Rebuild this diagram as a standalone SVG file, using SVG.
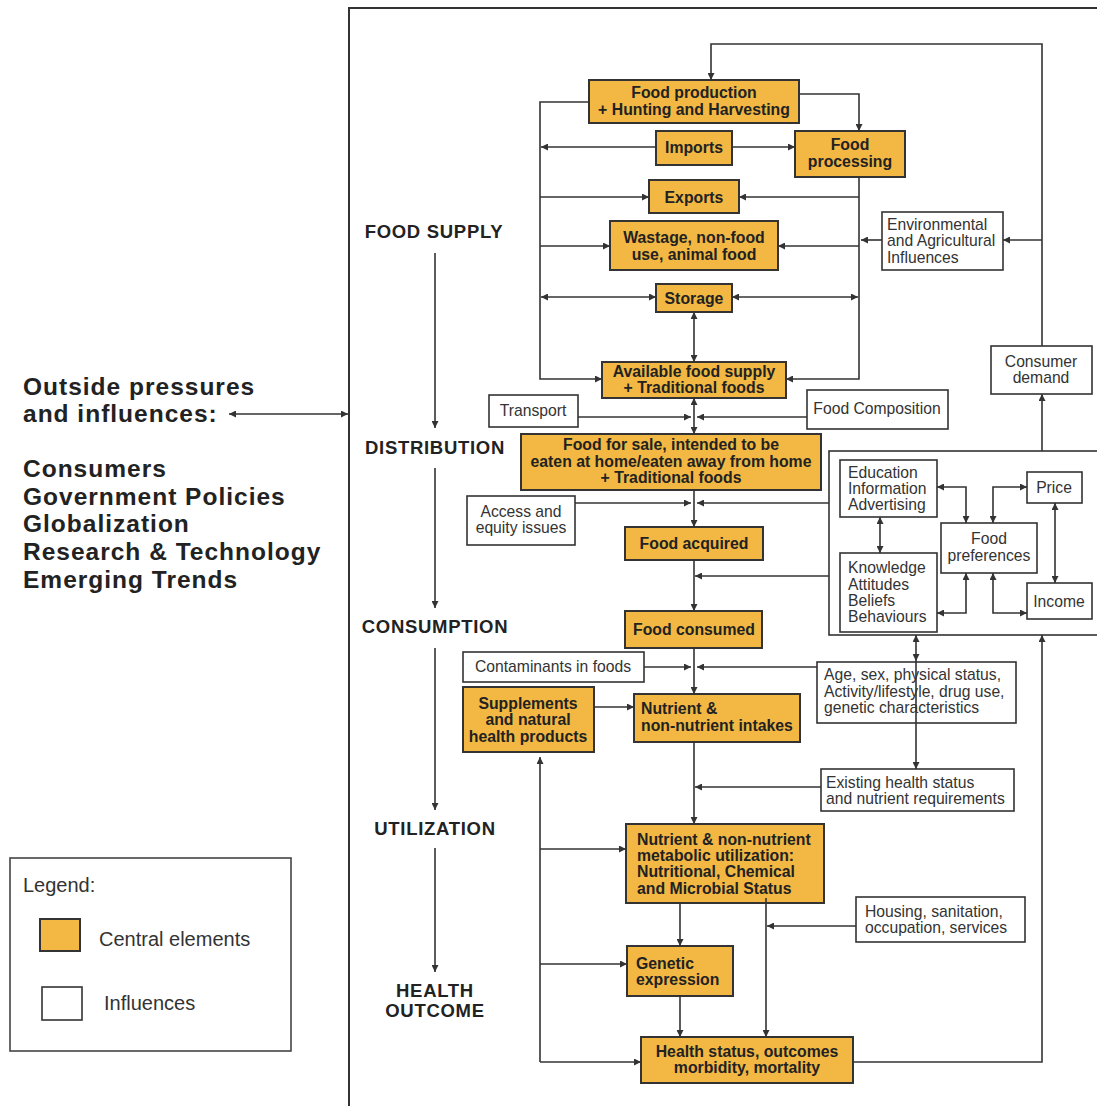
<svg xmlns="http://www.w3.org/2000/svg" width="1097" height="1106" viewBox="0 0 1097 1106">
<style>
.c{fill:#F2B843;stroke:#333;stroke-width:2}
.i{fill:#fff;stroke:#333;stroke-width:1.6}
.bt{font-family:"Liberation Sans",Arial,sans-serif;font-weight:bold;font-size:15.8px;fill:#222}
.it{font-family:"Liberation Sans",Arial,sans-serif;font-size:15.7px;fill:#333}
.sec{font-family:"Liberation Sans",Arial,sans-serif;font-weight:bold;font-size:18.5px;letter-spacing:0.7px;fill:#222;text-anchor:middle}
.out{font-family:"Liberation Sans",Arial,sans-serif;font-weight:bold;font-size:24.5px;letter-spacing:1px;fill:#222}
.lg{font-family:"Liberation Sans",Arial,sans-serif;font-size:20px;fill:#333}
.m{text-anchor:middle}
#conn path{fill:none;stroke:#333;stroke-width:1.6}
.a{marker-end:url(#ah)}
.b{marker-start:url(#ah);marker-end:url(#ah)}
</style>
<defs>
<marker id="ah" viewBox="0 0 10 10" refX="10" refY="5" markerWidth="9" markerHeight="7" markerUnits="userSpaceOnUse" orient="auto-start-reverse">
<path d="M0,0 L10,5 L0,10 z" fill="#333"/>
</marker>
</defs>
<rect width="1097" height="1106" fill="#fff"/>

<!-- frame -->
<path d="M349,1106 V8 H1097" fill="none" stroke="#333" stroke-width="2"/>

<!-- left text -->
<g id="outside">
<text class="out" x="23" y="395">Outside pressures</text>
<text class="out" x="23" y="422">and influences:</text>
<text class="out" x="23" y="477">Consumers</text>
<text class="out" x="23" y="505">Government Policies</text>
<text class="out" x="23" y="532">Globalization</text>
<text class="out" x="23" y="560">Research &amp; Technology</text>
<text class="out" x="23" y="588">Emerging Trends</text>
</g>

<g id="legend">
<rect x="10" y="858" width="281" height="193" fill="#fff" stroke="#444" stroke-width="1.6"/>
<text class="lg" x="23" y="892">Legend:</text>
<rect class="c" x="40" y="919" width="40" height="32"/>
<text class="lg" x="99" y="946">Central elements</text>
<rect class="i" x="42" y="987" width="40" height="33"/>
<text class="lg" x="104" y="1010">Influences</text>
</g>

<g id="sections">
<text class="sec" x="434" y="238">FOOD SUPPLY</text>
<text class="sec" x="435" y="454">DISTRIBUTION</text>
<text class="sec" x="435" y="633">CONSUMPTION</text>
<text class="sec" x="435" y="835">UTILIZATION</text>
<text class="sec" x="435" y="997">HEALTH</text>
<text class="sec" x="435" y="1017">OUTCOME</text>
</g>

<!-- central elements -->
<g id="food-production"><rect class="c" x="589" y="80" width="210" height="43"/>
<text class="bt m" x="694" y="98">Food production</text><text class="bt m" x="694" y="115">+ Hunting and Harvesting</text></g>
<g id="imports"><rect class="c" x="656" y="131" width="76" height="34"/><text class="bt m" x="694" y="153">Imports</text></g>
<g id="food-processing"><rect class="c" x="795" y="131" width="110" height="46"/>
<text class="bt m" x="850" y="150">Food</text><text class="bt m" x="850" y="167">processing</text></g>
<g id="exports"><rect class="c" x="649" y="180" width="90" height="33"/><text class="bt m" x="694" y="203">Exports</text></g>
<g id="wastage"><rect class="c" x="610" y="221" width="168" height="49"/>
<text class="bt m" x="694" y="243">Wastage, non-food</text><text class="bt m" x="694" y="260">use, animal food</text></g>
<g id="storage"><rect class="c" x="656" y="284" width="76" height="28"/><text class="bt m" x="694" y="304">Storage</text></g>
<g id="available"><rect class="c" x="602" y="362" width="184" height="36"/>
<text class="bt m" x="694" y="377">Available food supply</text><text class="bt m" x="694" y="393">+ Traditional foods</text></g>
<g id="food-for-sale"><rect class="c" x="521" y="434" width="300" height="56"/>
<text class="bt m" x="671" y="450">Food for sale, intended to be</text>
<text class="bt m" x="671" y="467">eaten at home/eaten away from home</text>
<text class="bt m" x="671" y="483">+ Traditional foods</text></g>
<g id="food-acquired"><rect class="c" x="625" y="527" width="138" height="33"/><text class="bt m" x="694" y="549">Food acquired</text></g>
<g id="food-consumed"><rect class="c" x="625" y="611" width="137" height="37"/><text class="bt m" x="694" y="635">Food consumed</text></g>
<g id="supplements"><rect class="c" x="463" y="687" width="131" height="65"/>
<text class="bt m" x="528" y="709">Supplements</text><text class="bt m" x="528" y="725">and natural</text><text class="bt m" x="528" y="742">health products</text></g>
<g id="intakes"><rect class="c" x="634" y="694" width="166" height="48"/>
<text class="bt" x="641" y="714">Nutrient &amp;</text><text class="bt" x="641" y="731">non-nutrient intakes</text></g>
<g id="metabolic"><rect class="c" x="626" y="824" width="198" height="79"/>
<text class="bt" x="637" y="845">Nutrient &amp; non-nutrient</text>
<text class="bt" x="637" y="861">metabolic utilization:</text>
<text class="bt" x="637" y="877">Nutritional, Chemical</text>
<text class="bt" x="637" y="894">and Microbial Status</text></g>
<g id="genetic"><rect class="c" x="627" y="946" width="106" height="50"/>
<text class="bt" x="636" y="969">Genetic</text><text class="bt" x="636" y="985">expression</text></g>
<g id="health"><rect class="c" x="641" y="1037" width="212" height="46"/>
<text class="bt m" x="747" y="1057">Health status, outcomes</text><text class="bt m" x="747" y="1073">morbidity, mortality</text></g>

<!-- influences -->
<g id="environmental"><rect class="i" x="882" y="212" width="121" height="58"/>
<text class="it" x="887" y="230">Environmental</text><text class="it" x="887" y="246">and Agricultural</text><text class="it" x="887" y="263">Influences</text></g>
<g id="consumer-demand"><rect class="i" x="991" y="346" width="101" height="48"/>
<text class="it m" x="1041" y="367">Consumer</text><text class="it m" x="1041" y="383">demand</text></g>
<g id="transport"><rect class="i" x="489" y="395" width="89" height="32"/><text class="it m" x="533" y="416">Transport</text></g>
<g id="food-composition"><rect class="i" x="807" y="390" width="141" height="39"/><text class="it m" x="877" y="414">Food Composition</text></g>
<g id="access"><rect class="i" x="467" y="496" width="108" height="49"/>
<text class="it m" x="521" y="517">Access and</text><text class="it m" x="521" y="533">equity issues</text></g>
<g id="consumer-box"><rect x="829" y="451" width="272" height="184" fill="none" stroke="#333" stroke-width="1.6"/></g>
<g id="education"><rect class="i" x="840" y="460" width="97" height="57"/>
<text class="it" x="848" y="478">Education</text><text class="it" x="848" y="494">Information</text><text class="it" x="848" y="510">Advertising</text></g>
<g id="knowledge"><rect class="i" x="840" y="553" width="97" height="79"/>
<text class="it" x="848" y="573">Knowledge</text><text class="it" x="848" y="590">Attitudes</text><text class="it" x="848" y="606">Beliefs</text><text class="it" x="848" y="622">Behaviours</text></g>
<g id="food-preferences"><rect class="i" x="941" y="523" width="96" height="50"/>
<text class="it m" x="989" y="544">Food</text><text class="it m" x="989" y="561">preferences</text></g>
<g id="price"><rect class="i" x="1027" y="472" width="55" height="31"/><text class="it m" x="1054" y="493">Price</text></g>
<g id="income"><rect class="i" x="1027" y="583" width="65" height="36"/><text class="it m" x="1059" y="607">Income</text></g>
<g id="contaminants"><rect class="i" x="463" y="652" width="181" height="30"/><text class="it m" x="553" y="672">Contaminants in foods</text></g>
<g id="age"><rect class="i" x="817" y="662" width="199" height="61"/>
<text class="it" x="824" y="680">Age, sex, physical status,</text><text class="it" x="824" y="697">Activity/lifestyle, drug use,</text><text class="it" x="824" y="713">genetic characteristics</text></g>
<g id="existing"><rect class="i" x="821" y="769" width="193" height="42"/>
<text class="it" x="826" y="788">Existing health status</text><text class="it" x="826" y="804">and nutrient requirements</text></g>
<g id="housing"><rect class="i" x="856" y="897" width="169" height="45"/>
<text class="it" x="865" y="917">Housing, sanitation,</text><text class="it" x="865" y="933">occupation, services</text></g>

<g id="conn">
<path class="b" d="M229,414 H348"/>
<path class="a" d="M435,253 V428"/>
<path class="a" d="M435,468 V608"/>
<path class="a" d="M435,648 V810"/>
<path class="a" d="M435,848 V972"/>

<path class="a" d="M1042,346 V44 H711 V80"/>
<path class="a" d="M799,94 H859 V131"/>
<path class="a" d="M589,102 H540 V379 H602"/>
<path class="a" d="M656,147 H541"/>
<path class="a" d="M732,147 H795"/>
<path class="a" d="M540,197 H649"/>
<path class="a" d="M859,197 H739"/>
<path class="a" d="M540,246 H610"/>
<path class="a" d="M859,246 H778"/>
<path class="a" d="M859,177 V379 H786"/>
<path class="a" d="M882,240 H861"/>
<path class="a" d="M1042,240 H1003"/>
<path class="b" d="M541,297 H656"/>
<path class="b" d="M732,297 H858"/>
<path class="b" d="M694,312 V362"/>
<path class="b" d="M694,398 V434"/>
<path class="a" d="M578,417 H691"/>
<path class="a" d="M807,417 H697"/>
<path class="a" d="M694,490 V527"/>
<path class="a" d="M575,503 H691"/>
<path class="a" d="M829,503 H697"/>
<path class="a" d="M694,560 V611"/>
<path class="a" d="M829,576 H695"/>
<path class="a" d="M694,648 V694"/>
<path class="a" d="M644,667 H691"/>
<path class="a" d="M817,667 H697"/>
<path class="a" d="M594,707 H634"/>
<path class="a" d="M694,742 V824"/>
<path class="a" d="M821,787 H695"/>
<path class="b" d="M916,635 V661"/>
<path class="a" d="M916,661 V769"/>
<path class="a" d="M540,1062 V757"/>
<path class="a" d="M540,849 H626"/>
<path class="a" d="M540,964 H627"/>
<path class="a" d="M540,1062 H641"/>
<path class="a" d="M680,903 V946"/>
<path class="a" d="M680,996 V1037"/>
<path class="a" d="M766,898 V1037"/>
<path class="a" d="M856,926 H767"/>
<path class="a" d="M853,1062 H1042 V635"/>
<path class="a" d="M1042,451 V394"/>

<path class="b" d="M880,517 V553"/>
<path class="b" d="M937,487 H966 V523"/>
<path class="b" d="M993,523 V487 H1027"/>
<path class="b" d="M1055,503 V583"/>
<path class="b" d="M937,613 H966 V573"/>
<path class="b" d="M993,573 V613 H1027"/>
</g>
</svg>
